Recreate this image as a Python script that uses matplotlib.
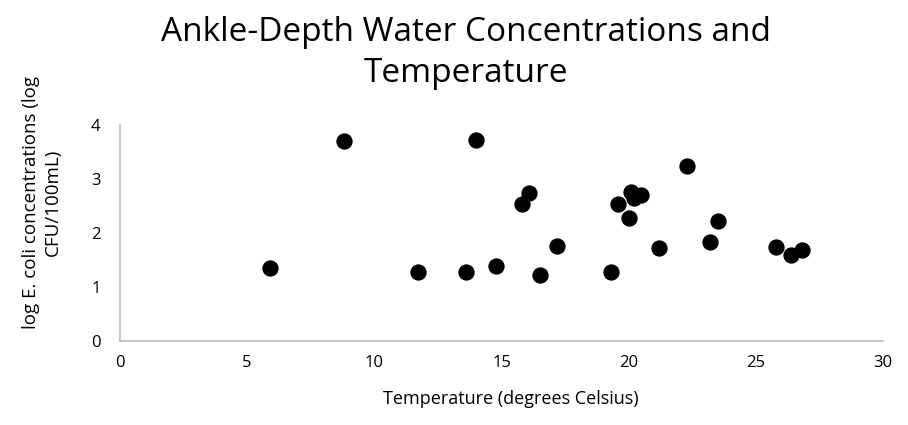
import matplotlib.pyplot as plt

# readings taken off the chart
temperature = [5.9, 8.8, 14.0, 11.7, 13.6, 14.8, 15.8, 16.1, 16.5, 17.2,
               19.3, 19.6, 20.0, 20.1, 20.2, 20.5, 21.2, 22.3, 23.2, 23.5,
               25.8, 26.4, 26.8]
log_ecoli = [1.35, 3.70, 3.72, 1.27, 1.27, 1.39, 2.54, 2.74, 1.23, 1.76,
             1.28, 2.54, 2.27, 2.76, 2.64, 2.70, 1.73, 3.24, 1.83, 2.23,
             1.75, 1.59, 1.69]

x_ticks = [0, 5, 10, 15, 20, 25, 30]
y_ticks = [0, 1, 2, 3, 4]

plt.rcParams['font.family'] = ['Open Sans', 'DejaVu Sans']

fig = plt.figure(figsize=(9.08, 4.25), dpi=100)
ax = fig.add_axes([120 / 908, 1 - 341 / 425, 763 / 908, 216 / 425])

ax.scatter(temperature, log_ecoli, s=115, color='black', zorder=3)

ax.set_xlim(0, 30)
ax.set_ylim(0, 4)
ax.set_xticks(x_ticks)
ax.set_yticks(y_ticks)
ax.tick_params(length=0, labelsize=12, labelcolor='black')
ax.tick_params(axis='x', pad=10)
ax.tick_params(axis='y', pad=14)

for side in ['top', 'right']:
    ax.spines[side].set_visible(False)
for side in ['left', 'bottom']:
    ax.spines[side].set_color('#bfbfbf')
    ax.spines[side].set_linewidth(1.2)

ax.set_xlabel('Temperature (degrees Celsius)', fontsize=13, va='top')
ax.xaxis.set_label_coords(0.512, -0.225)
ax.set_ylabel('log E. coli concentrations (log\nCFU/100mL)', fontsize=13.5,
              linespacing=1.3)
ax.yaxis.set_label_coords(-0.076, 0.64)

fig.text(0.513, 0.963, 'Ankle-Depth Water Concentrations and\nTemperature',
         ha='center', va='top', fontsize=24, linespacing=1.35)

fig.savefig('out.png', dpi=100)
